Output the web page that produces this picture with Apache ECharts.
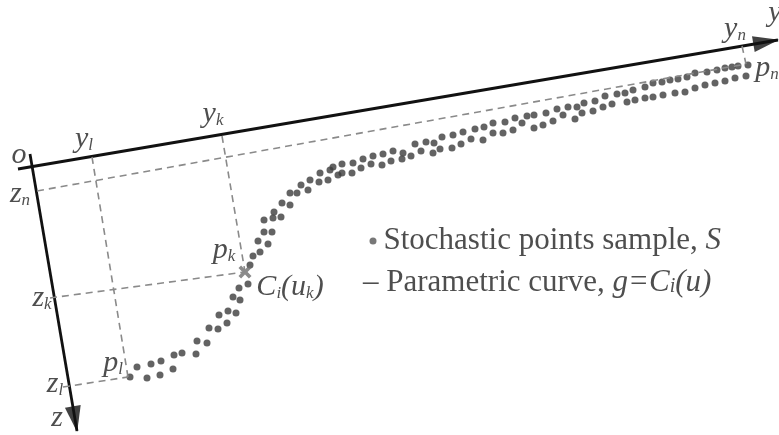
<!DOCTYPE html>
<html>
<head>
<meta charset="utf-8">
<script src="https://cdn.jsdelivr.net/npm/echarts@6/dist/echarts.min.js"></script>
<style>
html,body{margin:0;padding:0;background:#fff}
#chart{width:779px;height:435px}
</style>
</head>
<body>
<div id="chart"></div>
<script>
// everything lives in frame coordinates: x to the right, y downward
var axisY = [[18, 169], [778, 40]];
var axisZ = [[30, 154], [77, 431]];
// dashed projection lines
var guides = [
	[[92, 157], [128, 377]],   // y_l -> p_l
	[[222, 136], [245, 272]],  // y_k -> C_i(u_k)
	[[742, 46], [746, 64]],    // y_n -> p_n
	[[37, 191], [746, 64]],    // z_n -> p_n
	[[50, 298], [245, 272]],   // z_k -> C_i(u_k)
	[[63, 387], [128, 377]]    // z_l -> p_l
];
var curvePoint = [245, 272];
// stochastic points sample S
var samplePoints = [
	[130,377],[147,378],[160,375],[173,369],[137,367],[151,364],[161,361],[174,355],[182,353],[196,354],
	[197,341],[207,343],[209,328],[218,329],[227,323],[219,315],[228,311],[236,313],[233,297],[240,300],
	[239,288],[248,284],[250,265],
	[253,256],[260,252],[258,241],[268,244],[264,232],[272,232],[264,220],[273,218],[281,217],[274,212],
	[282,203],[290,205],[290,193],[297,193],[301,185],[308,190],[310,180],[319,182],[320,173],[328,180],
	[330,170],[338,175],[333,167],
	[342,164],[353,163],[363,159],[373,156],[383,154],[393,151],[403,153],[415,144],[426,142],[434,143],
	[442,137],[453,135],[463,132],[475,129],[484,127],
	[342,173],[352,173],[361,168],[371,164],[382,165],[391,161],[402,159],[411,156],[421,151],[433,153],
	[440,149],[452,148],[461,144],[471,139],[483,140],
	[493,123],[505,122],[515,118],[527,116],[534,115],[546,113],[557,109],[568,107],[577,107],[584,103],
	[595,101],[605,96],[617,94],
	[493,133],[503,133],[513,130],[522,123],[534,128],[543,125],[553,121],[563,115],[575,119],[582,113],
	[593,111],[603,107],[612,104],
	[625,93],[633,90],[645,87],[653,83],[662,82],[670,80],[678,79],[687,77],[695,73],[707,72],
	[717,70],[725,68],[732,67],[738,66],[748,65],
	[627,102],[635,100],[645,98],[653,97],[663,95],[675,93],[685,92],[695,88],[705,85],[715,83],
	[725,81],[735,78],[746,76]
];
// annotation texts and their anchors
var labelTexts = [
	'{m|o}', '{m|y}{s|l}', '{m|y}{s|k}', '{m|y}{s|n}', '{m|y}',
	'{m|z}{s|n}', '{m|z}{s|k}', '{m|z}{s|l}', '{m|z}',
	'{m|p}{s|k}', '{m|p}{s|l}', '{m|p}{s|n}', '{m|C}{s|i}{m|(u}{s|k}{m|)}'
];
var labelAnchors = [
	[19,155], [84,139], [213,114], [735,29], [775,13],
	[20,194], [42,298], [55,384], [57,418],
	[224,250], [113,363], [767,68], [290,287]
];
var legendTexts = [
	'{r|Stochastic points sample, }{i|S}',
	'{r|\u2013 Parametric curve, }{i|g=C}{is|i}{i|(u)}'
];
var legendAnchors = [[373, 241], [363, 283]];

var serif = '"Liberation Serif", "DejaVu Serif", serif';
var dotColor = '#3c3c3c';

function arrowHead(seg) {
	var dx = seg[1][0] - seg[0][0], dy = seg[1][1] - seg[0][1];
	var len = Math.sqrt(dx * dx + dy * dy);
	var back = 12;
	return {
		value: [seg[1][0] - dx / len * back, seg[1][1] - dy / len * back],
		symbolRotate: -Math.atan2(dx, -dy) * 180 / Math.PI
	};
}

var series = [];
// axes
[axisY, axisZ].forEach(function(seg) {
	series.push({
		type: 'line', data: seg, symbol: 'none', silent: true,
		lineStyle: { color: '#111', width: 2.8 }
	});
});
series.push({
	type: 'scatter', symbol: 'triangle', symbolSize: [16, 26],
	itemStyle: { color: '#111' }, silent: true,
	data: [arrowHead(axisY), arrowHead(axisZ)]
});
// dashed guides
guides.forEach(function(seg) {
	series.push({
		type: 'line', data: seg, symbol: 'none', silent: true,
		lineStyle: { color: '#8a8a8a', width: 1.6, type: [7, 5] }
	});
});
// sample points
series.push({
	type: 'scatter', data: samplePoints, symbol: 'circle', symbolSize: 7,
	itemStyle: { color: dotColor }, silent: true
});
// C_i(u_k) marker
series.push({
	type: 'scatter', data: [curvePoint], silent: true,
	symbol: 'path://M2,0L5,3L8,0L10,2L7,5L10,8L8,10L5,7L2,10L0,8L3,5L0,2Z',
	symbolSize: 13, itemStyle: { color: '#6e6e6e' }
});
// annotations
series.push({
	type: 'scatter', symbolSize: 0, silent: true,
	data: labelAnchors.map(function(p, i) {
		return { value: p, label: { formatter: labelTexts[i] } };
	}),
	label: {
		show: true, position: 'inside', color: '#222',
		rich: {
			m: { fontFamily: serif, fontStyle: 'italic', fontSize: 30, color: '#222' },
			s: { fontFamily: serif, fontStyle: 'italic', fontSize: 17, color: '#222', padding: [14, 0, 0, 0] }
		}
	}
});
// legend
series.push({
	type: 'scatter', silent: true,
	data: [
		{ value: legendAnchors[0], symbolSize: 7, itemStyle: { color: '#555' },
			label: { formatter: legendTexts[0], distance: 7 } },
		{ value: legendAnchors[1], symbolSize: 0,
			label: { formatter: legendTexts[1], distance: 0 } }
	],
	label: {
		show: true, position: 'right',
		rich: {
			r: { fontFamily: serif, fontSize: 31, color: '#222' },
			i: { fontFamily: serif, fontStyle: 'italic', fontSize: 31, color: '#222' },
			is: { fontFamily: serif, fontStyle: 'italic', fontSize: 20, color: '#222', padding: [7, 0, 0, 0] }
		}
	}
});

var chart = echarts.init(document.getElementById('chart'));
chart.setOption({
	backgroundColor: '#fff',
	animation: false,
	grid: { left: 0, right: 0, top: 0, bottom: 0 },
	xAxis: { type: 'value', min: 0, max: 779, show: false },
	yAxis: { type: 'value', min: 0, max: 435, inverse: true, show: false },
	series: series
});
</script>
</body>
</html>
